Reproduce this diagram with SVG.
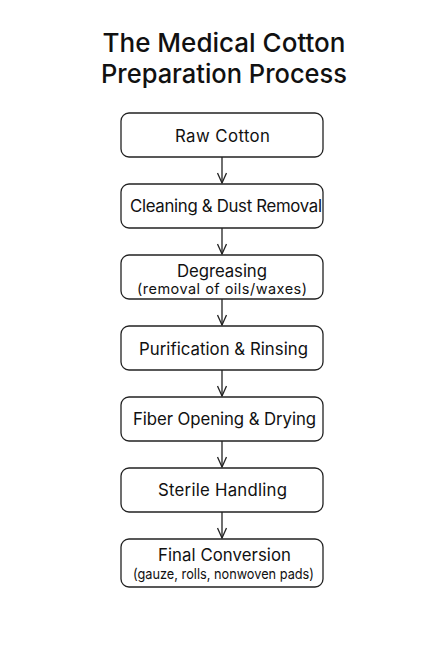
<svg xmlns="http://www.w3.org/2000/svg" width="445" height="667" viewBox="0 0 445 667">
<defs>
<style>
.title{font-family:Inter,"Liberation Sans",sans-serif;font-size:26px;font-weight:500;fill:#111;text-anchor:middle}
.box{fill:#fff;stroke:#222;stroke-width:1.3}
.lbl{font-family:Inter,"Liberation Sans",sans-serif;font-size:16.8px;fill:#111;text-anchor:middle}
.sub{font-family:Inter,"Liberation Sans",sans-serif;font-size:14.5px;fill:#111;text-anchor:middle}
.edge{fill:none;stroke:#222;stroke-width:1.3}
</style>
<marker id="ah" viewBox="0 0 12 10" refX="11" refY="5" markerWidth="12" markerHeight="10" markerUnits="userSpaceOnUse" orient="auto">
<path d="M1,0.5 L11,5 L1,9.5" fill="none" stroke="#222" stroke-width="1.3"/>
</marker>
</defs>
<rect width="445" height="667" fill="#fff"/>
<g id="title">
<text class="title" x="224" y="52" textLength="243" lengthAdjust="spacingAndGlyphs">The Medical Cotton</text>
<text class="title" x="224" y="83" textLength="246" lengthAdjust="spacingAndGlyphs">Preparation Process</text>
</g>
<g id="connectors">
<path class="edge" d="M222,157 V183" marker-end="url(#ah)"/>
<path class="edge" d="M222,228 V254" marker-end="url(#ah)"/>
<path class="edge" d="M222,299 V325" marker-end="url(#ah)"/>
<path class="edge" d="M222,370 V396" marker-end="url(#ah)"/>
<path class="edge" d="M222,441 V467" marker-end="url(#ah)"/>
<path class="edge" d="M222,512 V538" marker-end="url(#ah)"/>
</g>
<g id="n1"><rect class="box" x="121" y="113" width="202" height="44" rx="8"/><text class="lbl" x="222.5" y="142" textLength="95">Raw Cotton</text></g>
<g id="n2"><rect class="box" x="121" y="184" width="202" height="44" rx="8"/><text class="lbl" x="226" y="212" textLength="192">Cleaning &amp; Dust Removal</text></g>
<g id="n3"><rect class="box" x="121" y="255" width="202" height="44" rx="8"/><text class="lbl" x="222" y="276.5" textLength="90">Degreasing</text><text class="sub" x="222" y="294" textLength="170">(removal of oils/waxes)</text></g>
<g id="n4"><rect class="box" x="121" y="326" width="202" height="44" rx="8"/><text class="lbl" x="223.5" y="355" textLength="169">Purification &amp; Rinsing</text></g>
<g id="n5"><rect class="box" x="121" y="397" width="202" height="44" rx="8"/><text class="lbl" x="224.5" y="425" textLength="183">Fiber Opening &amp; Drying</text></g>
<g id="n6"><rect class="box" x="121" y="468" width="202" height="44" rx="8"/><text class="lbl" x="222.5" y="496" textLength="129">Sterile Handling</text></g>
<g id="n7"><rect class="box" x="121" y="539" width="202" height="48" rx="8"/><text class="lbl" x="224.5" y="561" textLength="133">Final Conversion</text><text class="sub" x="223.5" y="579" textLength="181" lengthAdjust="spacingAndGlyphs">(gauze, rolls, nonwoven pads)</text></g>
</svg>
